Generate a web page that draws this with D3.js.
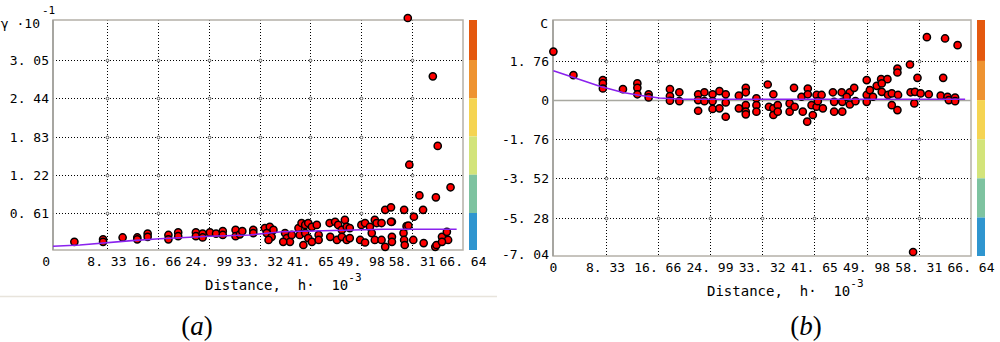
<!DOCTYPE html>
<html>
<head>
<meta charset="utf-8">
<script src="https://cdn.jsdelivr.net/npm/d3@7"></script>
<style>
body { margin: 0; background: #fff; }
svg { display: block; }
text { font-family: "DejaVu Sans Mono", monospace; white-space: pre; fill: #000; }
</style>
</head>
<body>
<svg id="chart" width="1000" height="342"></svg>
<script>
// shared x axis (distance h, x10^-3)
const xTicks = [0, 8.33, 16.66, 24.99, 33.32, 41.65, 49.98, 58.31, 66.64];
const xTickLabels = ["0", "8. 33", "16. 66", "24. 99", "33. 32", "41. 65", "49. 98", "58. 31", "66. 64"];

// panel (a) semivariance
const yTicksA = [0.61, 1.22, 1.83, 2.44, 3.05];
const yTickLabelsA = ["0. 61", "1. 22", "1. 83", "2. 44", "3. 05"];
const pointsA = [
  [3.0,0.15],[7.7,0.19],[7.7,0.15],[10.9,0.22],[13.3,0.22],[13.3,0.19],[15.0,0.28],[15.0,0.23],
  [18.4,0.26],[18.4,0.19],[20.0,0.30],[20.0,0.24],[22.9,0.30],[22.9,0.24],[24.0,0.28],[24.0,0.22],
  [25.2,0.30],[26.2,0.28],[27.3,0.32],[27.3,0.26],[29.4,0.34],[29.4,0.24],[30.1,0.27],[30.5,0.32],
  [32.3,0.34],[32.3,0.29],
  [34.2,0.37],[35.0,0.39],[35.6,0.34],[34.5,0.29],[35.3,0.23],[34.8,0.18],
  [37.5,0.29],[37.8,0.21],[38.3,0.15],[38.6,0.26],[37.2,0.15],
  [39.7,0.37],[40.2,0.45],[40.8,0.42],[41.3,0.45],[41.9,0.39],[39.9,0.26],[40.8,0.29],[41.3,0.21],
  [40.5,0.10],[41.9,0.15],[42.7,0.42],[43.0,0.26],[43.0,0.18],
  [44.8,0.45],[45.7,0.47],[46.2,0.42],[46.8,0.34],[47.3,0.50],[47.6,0.39],[48.1,0.37],[44.9,0.23],
  [46.0,0.18],[46.8,0.23],[47.6,0.18],[48.1,0.21],
  [50.0,0.42],[50.6,0.45],[51.4,0.39],[52.2,0.50],[52.5,0.45],[53.3,0.45],[51.7,0.29],[49.8,0.18],
  [50.6,0.14],[52.2,0.18],[53.3,0.18],[53.9,0.07],
  [55.0,0.47],[55.0,0.23],[55.0,0.15],[56.9,0.29],[57.0,0.18],[57.1,0.10],[57.4,0.40],
  [58.5,0.18],[60.2,0.13],[62.1,0.07],[62.3,0.10],[63.2,0.23],[64.0,0.31],[64.2,0.18],[63.2,0.15],
  [53.9,0.66],[54.85,0.70],[57.0,0.66],[60.1,0.66],[58.6,0.55],[54.85,0.47],[57.7,0.41],
  [57.85,1.38],[59.5,0.89],[62.2,0.86],[64.6,1.02],[57.6,3.72],[61.7,2.79],[62.5,1.68]
];
const modelA = [[-0.5,0.08],[3.9,0.10],[12.4,0.17],[17.0,0.20],[25.2,0.24],[31.7,0.26],[37.0,0.31],[53.7,0.35],[65.6,0.35]];

// panel (b) correlation C
const yTicksB = [1.76, 0, -1.76, -3.52, -5.28, -7.04];
const yTickLabelsB = ["1. 76", "0", "-1. 76", "-3. 52", "-5. 28", "-7. 04"];
const pointsB = [
  [0,2.18],[3.2,1.12],[7.9,0.90],[7.9,0.75],[7.9,0.52],[11.1,0.49],[13.4,0.75],[13.4,0.55],[13.4,0.26],
  [15.2,0.26],[15.2,0.12],[18.6,0.49],[18.6,0.18],[18.6,-0.03],[20.1,0.35],[20.1,-0.05],
  [23.1,0.26],[23.1,0.0],[23.1,-0.48],[24.1,0.35],[24.1,-0.05],[25.4,0.26],[25.4,-0.05],[25.4,-0.40],
  [26.5,0.40],[26.5,-0.37],[27.5,0.26],[27.5,-0.11],[27.5,-0.75],[29.6,0.20],[29.6,-0.37],
  [30.7,0.55],[30.7,0.35],[30.7,-0.23],[30.7,-0.52],[30.7,-0.64],[32.4,0.08],[32.4,-0.23],[32.4,-0.52],
  [34.2,0.70],[35.1,0.26],[34.4,-0.30],[35.1,-0.37],[35.1,-0.67],[35.8,-0.23],[35.8,-0.52],
  [37.7,-0.15],[37.7,-0.52],[38.5,-0.30],[38.4,0.55],
  [39.6,0.15],[39.8,-0.52],[40.6,0.52],[40.6,0.26],[40.5,-0.97],[41.4,-0.67],[41.2,-0.23],[42.0,0.23],
  [42.0,-0.30],[42.8,0.23],[43.0,-0.37],[42.2,-0.05],
  [44.6,0.35],[44.8,-0.08],[44.8,-0.52],[46.0,0.35],[46.1,-0.08],[46.1,-0.52],[47.3,0.35],[47.3,-0.20],
  [48.0,0.55],[48.2,-0.05],[46.8,0.15],
  [50.0,0.90],[50.0,0.23],[50.0,-0.08],[50.5,0.45],[51.0,0.15],[51.6,0.64],[52.3,0.94],[52.4,0.37],
  [53.3,0.94],[52.4,0.75],[53.4,0.23],[54.0,-0.23],[54.9,1.42],[54.9,1.24],[54.9,-0.45],[54.0,0.30],[55.0,0.23],
  [56.9,1.60],[58.1,1.00],[57.0,0.35],[57.6,-0.15],[57.7,0.37],[58.6,0.30],[59.9,0.26],
  [59.6,2.83],[62.5,2.77],[64.5,2.47],[62.2,1.00],[61.8,0.20],[62.9,0.15],[63.1,0.0],[64.1,0.11],[64.1,-0.05],
  [57.4,-6.83]
];
const modelB = [[0,1.32],[3.6,0.98],[7.4,0.62],[11.1,0.34],[13.7,0.22],[16.9,0.09],[20.7,0.04],[65.7,0.04]];

// colour strip next to each plot, top to bottom
const barColors = ["#e4580e", "#ee9331", "#f5d452", "#d3e47a", "#7ec3a0", "#2f95cf"];

const svg = d3.select("#chart");

const panels = [
  { pts: pointsA, model: modelA, yTicks: yTicksA, yLabels: yTickLabelsA,
    left: 53, right: 463, top: 20, bottom: 250, xDom: [-0.5, 66.64], yDom: [0.02, 3.688],
    barX: 469, xLabY: 266, zeroDx: -10, titleX: 205, titleY: 290, tag: "a", tagX: 197,
    yName: "γ ·10", yNameSup: "-1", yNameX: 40, zeroSolid: false },
  { pts: pointsB, model: modelB, yTicks: yTicksB, yLabels: yTickLabelsB,
    left: 553, right: 971, top: 20, bottom: 256, xDom: [-0.06, 66.64], yDom: [-7.01, 3.60],
    barX: 977, xLabY: 272, zeroDx: 0, titleX: 707, titleY: 296, tag: "b", tagX: 806,
    yName: "C", yNameSup: "", yNameX: 548, zeroSolid: true }
];

// faint window edge under panel a
svg.append("line").attr("x1", 0).attr("x2", 497).attr("y1", 296.5).attr("y2", 296.5)
  .attr("stroke", "#e8e4dc").attr("stroke-width", 1.5);

panels.forEach(p => {
  const x = d3.scaleLinear().domain(p.xDom).range([p.left, p.right]);
  const y = d3.scaleLinear().domain(p.yDom).range([p.bottom, p.top]);
  const g = svg.append("g");
  const px = v => Math.round(x(v)) + 0.5;
  const py = v => Math.round(y(v)) + 0.5;

  const inner = xTicks.slice(1, -1);
  const gridY = p.yTicks.filter(t => t > p.yDom[0] && t < p.yDom[1]);

  // dotted grid
  inner.forEach(t => {
    g.append("line").attr("x1", px(t)).attr("x2", px(t)).attr("y1", p.top).attr("y2", p.bottom)
      .attr("stroke", "#000").attr("stroke-dasharray", "1,2");
  });
  gridY.forEach(t => {
    const solid = p.zeroSolid && t === 0;
    g.append("line").attr("x1", p.left).attr("x2", p.right).attr("y1", py(t)).attr("y2", py(t))
      .attr("stroke", solid ? "#a8a8a0" : "#000")
      .attr("stroke-width", solid ? 1.5 : 1)
      .attr("stroke-dasharray", solid ? null : "1,2");
  });
  // small rings where grid lines cross
  inner.forEach(tx => gridY.forEach(ty => {
    if (p.zeroSolid && ty === 0) return;
    g.append("circle").attr("cx", px(tx)).attr("cy", py(ty)).attr("r", 1.4)
      .attr("fill", "#fff").attr("stroke", "#333").attr("stroke-width", 0.8);
  }));

  // frame
  g.append("rect").attr("x", p.left).attr("y", p.top)
    .attr("width", p.right - p.left).attr("height", p.bottom - p.top)
    .attr("fill", "none").attr("stroke", "#b4b0a8").attr("stroke-width", 1.5);
  g.append("line").attr("x1", p.left).attr("x2", p.left).attr("y1", p.top).attr("y2", p.bottom)
    .attr("stroke", "#9c9c98").attr("stroke-width", 1.5);

  // points
  g.selectAll(".pt").data(p.pts).join("circle")
    .attr("cx", d => x(d[0])).attr("cy", d => y(d[1])).attr("r", 3.6)
    .attr("fill", "#ff0000").attr("stroke", "#000").attr("stroke-width", 1.5);

  // fitted model line
  g.append("path").datum(p.model)
    .attr("d", d3.line().x(d => x(d[0])).y(d => y(d[1])))
    .attr("fill", "none").attr("stroke", "#8a22ee").attr("stroke-width", 1.6);

  // colour strip, split at the labelled y values
  const cuts = gridY.map(t => y(t)).sort((a, b) => a - b);
  const bounds = [p.top, ...cuts, p.bottom];
  barColors.forEach((c, i) => {
    g.append("rect").attr("x", p.barX).attr("y", bounds[i]).attr("width", 8)
      .attr("height", bounds[i + 1] - bounds[i]).attr("fill", c);
  });

  // tick labels
  xTicks.forEach((t, i) => {
    g.append("text").attr("x", x(t) + (i === 0 ? p.zeroDx : 0)).attr("y", p.xLabY)
      .attr("text-anchor", "middle").style("font-size", "13px").text(xTickLabels[i]);
  });
  p.yTicks.forEach((t, i) => {
    g.append("text").attr("x", p.left - 4).attr("y", Math.min(y(t), p.bottom - 2) + 5)
      .attr("text-anchor", "end").style("font-size", "13px").text(p.yLabels[i]);
  });

  // axis names
  g.append("text").attr("x", p.yNameX).attr("y", 28)
    .attr("text-anchor", "end").style("font-size", "13px").text(p.yName);
  if (p.yNameSup) {
    g.append("text").attr("x", p.yNameX + 2).attr("y", 14).style("font-size", "11px").text(p.yNameSup);
  }
  const tt = g.append("text").attr("x", p.titleX).attr("y", p.titleY).style("font-size", "14px");
  tt.append("tspan").text("Distance,  h·  10");
  tt.append("tspan").attr("dy", -9).style("font-size", "11px").text("-3");

  // panel tag
  const tag = g.append("text").attr("x", p.tagX).attr("y", 335).attr("text-anchor", "middle")
    .style("font-family", "'Liberation Serif', serif").style("font-size", "27px");
  tag.append("tspan").text("(");
  tag.append("tspan").style("font-style", "italic").text(p.tag);
  tag.append("tspan").text(")");
});
</script>
</body>
</html>
